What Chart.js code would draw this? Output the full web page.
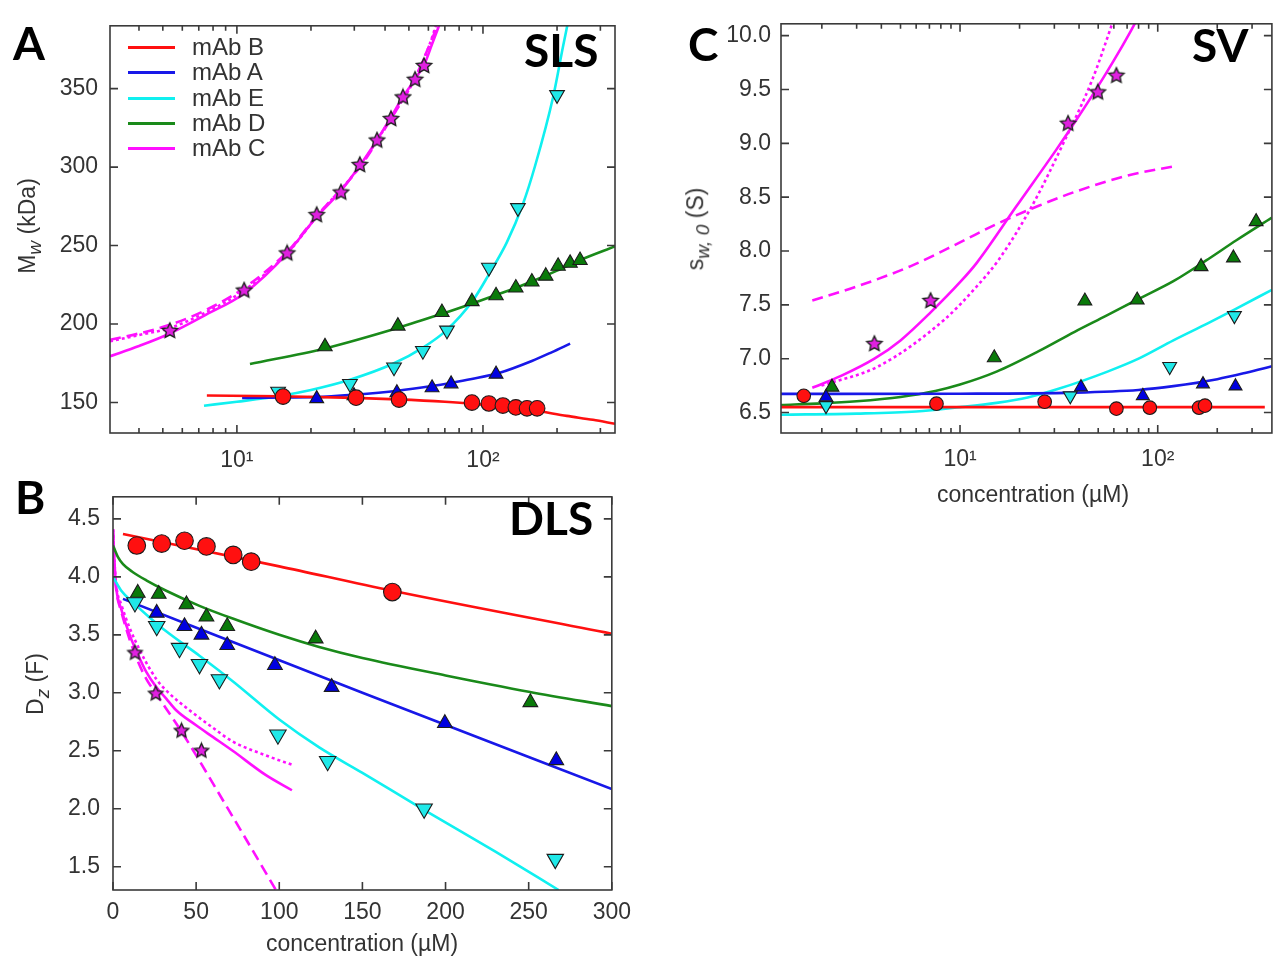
<!DOCTYPE html>
<html>
<head>
<meta charset="utf-8">
<script src="https://cdn.jsdelivr.net/npm/chart.js@4/dist/chart.umd.min.js"></script>
<style>
  body { margin: 0; background: #fff; }
  #page { position: relative; width: 1281px; height: 957px; overflow: hidden; background: #fff;
          font-family: "Liberation Sans", Arial, sans-serif; color: #333; }
  canvas { position: absolute; }
  .big { position: absolute; font-family: Lato, "Open Sans", sans-serif; font-weight: 700;
         font-size: 46px; line-height: 46px; color: #000; }
  .ytitle { position: absolute; font-size: 23px; white-space: nowrap; transform: translate(-50%, -50%) rotate(-90deg); }
  .xtitle { position: absolute; font-size: 23px; white-space: nowrap; transform: translate(-50%, -50%); }
  .legend { position: absolute; left: 128px; top: 34px; font-size: 24px; line-height: 25.3px; }
  .legend div { position: relative; height: 25.3px; width: 160px; }
  .legend span.l { position: absolute; left: 0; top: 12px; width: 47px; height: 3px; }
  .legend span.t { position: absolute; left: 64px; top: 0; white-space: nowrap; }
</style>
</head>
<body>
<div id="page">
  <canvas id="sls" width="640" height="470" style="left:0;top:0"></canvas>
  <canvas id="dls" width="640" height="487" style="left:0;top:470px"></canvas>
  <canvas id="sv" width="621" height="510" style="left:660px;top:0"></canvas>

  <div class="big" style="left:13px;top:20px">A</div>
  <div class="big" style="left:15px;top:474px">B</div>
  <div class="big" style="left:688px;top:21px">C</div>
  <div class="big" style="left:524px;top:27px">SLS</div>
  <div class="big" style="left:509px;top:495px">DLS</div>
  <div class="big" style="left:1192px;top:22px">SV</div>

  <div class="ytitle" style="left:30px;top:226px">M<sub><i>w</i></sub> (kDa)</div>
  <div class="ytitle" style="left:38px;top:684px">D<sub><i>z</i></sub> (F)</div>
  <div class="ytitle" style="left:698px;top:229px">s<sub><i>w, 0</i></sub> (S)</div>
  <div class="xtitle" style="left:362px;top:943px">concentration (µM)</div>
  <div class="xtitle" style="left:1033px;top:494px">concentration (µM)</div>

  <div class="legend" id="legend"></div>
</div>
<script>
// ---- panel A: SLS, concentration (µM) vs Mw (kDa) ----
const slsB = [[15.4,153.8],[30.5,153.1],[45.6,151.9],[90.2,150.0],[105.7,149.4],[120.5,148.1],[136,146.9],[151,146.3],[166,146.3]];
const slsBFit = [[7.55,154.5],[15,154],[30,153],[45,152],[70,150.5],[90,149.3],[120,147.3],[158,145.2],[219,141.5],[280,139],[344,136.5]];
const slsA = [[21.1,152.5],[29.9,154.4],[44.7,156.3],[62.1,159.4],[74.2,161.9],[113,168.1]];
const slsAFit = [[10.5,153],[21,153.5],[30,155],[45,157.5],[62,160.5],[74,162.5],[90,165],[117,169],[158,176.5],[190,182],[226,187.5]];
const slsE = [[14.7,157],[28.8,162],[43.5,172.5],[57,183],[71.4,196],[105.7,236],[138.7,274],[200,346]];
const slsEFit = [[7.35,148],[10,150.5],[14.7,154],[20,158],[28.8,164.5],[43.5,175],[57,185],[71,196],[91,215],[106,232],[125,252],[145,276],[163,301],[193,345],[211,376],[222,393]];
const slsD = [[22.8,185.6],[45.1,198.8],[68.1,207.5],[90.2,214.4],[113,218.1],[136,223.1],[158,226.9],[180,230.6],[202,236.9],[226,238.8],[248,240.6]];
const slsDFit = [[11.3,174.5],[22.8,184.5],[45,197.5],[68,206.5],[90,213],[113,218.5],[136,223],[160,227.5],[200,234],[250,241],[344,249.5]];
const slsC = [[5.34,195.6],[10.7,221.3],[16,245],[21.1,269.4],[26.5,283.8],[31.6,301.3],[37.1,316.9],[42.3,330.6],[47.3,344.4],[53,355.6],[57.6,364.4]];
const slsCFit = [[3.05,179.5],[4,186],[5.34,194],[7.5,206],[10.7,219.5],[16,245],[21,268],[26.5,285],[31.6,301],[37,317],[42,331],[47,344],[53,356],[58,366],[62,378],[67,392]];
const slsCDash = [[3.05,190],[4,194],[5.34,199.5],[7.5,209],[10.7,223],[16,246],[21,268.5],[31.6,300],[42,330],[53,357],[60,376],[66,392]];
const slsCDot = [[3.05,189],[4,193],[5.34,197.5],[7.5,207.5],[10.7,221.5],[16,245],[21,268],[31.6,300.5],[42,330.5],[53,356.5],[60,376],[65,392]];

// ---- panel B: DLS, concentration (µM) vs Dz (F) ----
const dlsB = [[14.3,4.27],[29.3,4.287],[43,4.311],[56.2,4.262],[72.3,4.189],[83.1,4.131],[168,3.869]];
const dlsBFit = [[6,4.37],[100,4.09],[168,3.88],[300,3.51]];
const dlsA = [[26.3,3.689],[43,3.574],[53.2,3.5],[68.7,3.41],[97.4,3.238],[131.5,3.049],[199.6,2.738],[266.6,2.418]];
const dlsAFit = [[6,3.81],[150,3.0],[300,2.17]];
const dlsE = [[13.2,3.779],[26.3,3.574],[40,3.385],[52,3.246],[64,3.115],[99.2,2.639],[129.1,2.41],[187.1,2.0],[266,1.566]];
const dlsEFit = [[0,4.0],[5,3.88],[12,3.78],[22,3.65],[32,3.53],[52,3.32],[72,3.1],[100,2.77],[124,2.53],[150,2.31],[186,2.0],[230,1.63],[268,1.3]];
const dlsD = [[14.9,3.861],[27.5,3.852],[44.2,3.762],[56.2,3.656],[68.7,3.574],[121.9,3.467],[251,2.918]];
const dlsDFit = [[0,4.27],[3,4.17],[6,4.11],[12,4.04],[20,3.97],[32,3.88],[52,3.75],[72,3.64],[100,3.5],[124,3.395],[150,3.3],[200,3.15],[250,3.01],[300,2.885]];
const dlsC = [[13.2,3.344],[25.7,2.992],[41.2,2.672],[53.2,2.5]];
const dlsCFit = [[0,4.41],[1,4.1],[2,3.9],[5,3.72],[10,3.5],[15,3.33],[20,3.18],[26,3.05],[32,2.95],[38,2.85],[50,2.72],[60,2.62],[72,2.5],[92,2.29],[107.6,2.16]];
const dlsCDot = [[0,4.41],[1,4.1],[2,3.92],[5,3.76],[10,3.56],[15,3.4],[20,3.26],[26,3.12],[32,3.02],[46,2.85],[60,2.7],[72,2.58],[92,2.46],[107.6,2.38]];
const dlsCDash = [[0,4.41],[1,4.05],[2,3.88],[5,3.7],[10,3.46],[15,3.27],[20,3.12],[26,2.99],[41,2.67],[70,1.98],[98,1.3]];

// ---- panel C: SV, concentration (µM) vs s_w,0 (S) ----
const svB = [[1.62,6.655],[7.6,6.582],[26.8,6.6],[61.8,6.536],[91.2,6.545],[161.8,6.545],[173.4,6.564]];
const svBFit = [[1.243,6.55],[348,6.55]];
const svA = [[2.1,6.645],[40.9,6.736],[84.1,6.655],[169.4,6.764],[247.4,6.745]];
const svAFit = [[1.243,6.673],[10,6.675],[38,6.685],[80,6.71],[120,6.745],[200,6.81],[280,6.87],[378,6.93]];
const svE = [[2.1,6.564],[36.1,6.655],[114.9,6.927],[244.3,7.4]];
const svEFit = [[1.243,6.48],[3,6.49],[6,6.51],[10,6.55],[15.3,6.59],[22,6.64],[31.5,6.72],[55.7,6.88],[80,7.0],[120,7.17],[180,7.33],[247,7.46],[378,7.64]];
const svD = [[2.25,6.736],[14.9,7.009],[42.8,7.536],[78.7,7.545],[165.6,7.855],[241.5,7.936],[314.5,8.273]];
const svDFit = [[1.243,6.57],[2,6.585],[3,6.605],[5,6.645],[7.5,6.7],[10,6.76],[15.3,6.88],[25,7.07],[38,7.25],[55,7.4],[79,7.55],[120,7.72],[175,7.91],[250,8.1],[378,8.31]];
const svC = [[3.69,7.136],[7.1,7.536],[35.2,9.182],[49.8,9.473],[61.8,9.627]];
const svCFit = [[1.79,6.73],[2.5,6.84],[3.69,7.0],[5,7.17],[7.1,7.43],[10,7.71],[12.15,7.89],[19.2,8.41],[30.4,8.93],[35.3,9.105],[48,9.48],[60,9.77],[73.4,10.05],[78,10.14]];
const svCDot = [[1.99,6.75],[3.87,6.93],[8.3,7.36],[12,7.66],[15.7,7.92],[23.3,8.43],[34.1,9.04],[46.4,9.58],[58.3,10.09],[61,10.2]];
const svCDash = [[1.79,7.54],[3,7.67],[5.64,7.86],[10,8.08],[15.3,8.25],[25,8.42],[38.2,8.55],[70,8.7],[124.5,8.79]];

// ticks
const mwTicks = [150, 200, 250, 300, 350];
const dzTicks = [1.5, 2.0, 2.5, 3.0, 3.5, 4.0, 4.5];
const swTicks = [6.5, 7.0, 7.5, 8.0, 8.5, 9.0, 9.5, 10.0];
const concTicks = [0, 50, 100, 150, 200, 250, 300];
const logMajor = [10, 100];
const logMinor = [2, 3, 4, 5, 6, 7, 8, 9, 20, 30, 40, 50, 60, 70, 80, 90, 200, 300];

const names = ['mAb B', 'mAb A', 'mAb E', 'mAb D', 'mAb C'];
const RED = '#ff1010', BLUE = '#1818e8', CYAN = '#10f0f0', GREEN = '#1a8a1a', MAG = '#ff10ff';
const colors = [RED, BLUE, CYAN, GREEN, MAG];

Chart.defaults.font.family = '"Liberation Sans", Arial, sans-serif';
Chart.defaults.font.size = 23;
Chart.defaults.color = '#333';

const pts = a => a.map(([x, y]) => ({ x, y }));

function starImage(r) {
  const c = document.createElement('canvas');
  const s = Math.ceil(2 * r + 4);
  c.width = c.height = s;
  const g = c.getContext('2d');
  g.beginPath();
  for (let i = 0; i < 10; i++) {
    const rr = i % 2 ? r * 0.48 : r;
    const ang = -Math.PI / 2 + i * Math.PI / 5;
    g.lineTo(s / 2 + rr * Math.cos(ang), s / 2 + rr * Math.sin(ang));
  }
  g.closePath();
  g.fillStyle = '#e020e0';
  g.fill();
  g.strokeStyle = '#222';
  g.lineWidth = 1.4;
  g.stroke();
  return c;
}

function marks(data, color, style, r, rot) {
  return {
    data: pts(data), showLine: false, pointStyle: style, pointRadius: r, pointHoverRadius: r,
    pointRotation: rot || 0, pointBackgroundColor: color, pointBorderColor: '#1c1c1c',
    pointBorderWidth: 1.1, order: 0
  };
}
function curve(data, color, dash) {
  return {
    data: pts(data), showLine: true, borderColor: color, borderWidth: 2.6, borderDash: dash || [],
    pointRadius: 0, pointHoverRadius: 0, cubicInterpolationMode: 'monotone', fill: false, order: 1
  };
}

// box round the plot area with inward ticks on all four sides
const frame = {
  id: 'frame',
  afterDatasetsDraw(chart, args, o) {
    const { ctx, chartArea: a } = chart;
    const sx = chart.scales.x, sy = chart.scales.y;
    ctx.save();
    ctx.strokeStyle = '#3a3a3a';
    ctx.lineWidth = 1.6;
    ctx.beginPath();
    const seg = (x1, y1, x2, y2) => { ctx.moveTo(x1, y1); ctx.lineTo(x2, y2); };
    const xt = (vals, len) => vals.forEach(v => {
      if (v < sx.min || v > sx.max) return;
      const p = sx.getPixelForValue(v);
      seg(p, a.bottom, p, a.bottom - len); seg(p, a.top, p, a.top + len);
    });
    const yt = (vals, len) => vals.forEach(v => {
      const p = sy.getPixelForValue(v);
      seg(a.left, p, a.left + len, p); seg(a.right, p, a.right - len, p);
    });
    xt(o.xMajor, 8); xt(o.xMinor || [], 5); yt(o.yMajor, 8);
    ctx.stroke();
    ctx.strokeRect(a.left, a.top, a.right - a.left, a.bottom - a.top);
    ctx.restore();
  }
};

function makeChart(id, datasets, cfg) {
  const fixTicks = vals => scale => { scale.ticks = vals.map(v => ({ value: v })); };
  return new Chart(document.getElementById(id), {
    type: 'scatter',
    data: { datasets },
    plugins: [frame],
    options: {
      responsive: false, animation: false, events: [],
      layout: { padding: cfg.pad },
      plugins: { legend: { display: false }, tooltip: { enabled: false },
                 frame: { xMajor: cfg.xMajor, xMinor: cfg.xMinor, yMajor: cfg.yTicks } },
      scales: {
        x: {
          type: cfg.xType, min: cfg.xMin, max: cfg.xMax,
          grid: { display: false, drawTicks: false }, border: { display: false },
          afterBuildTicks: fixTicks(cfg.xLabels),
          afterFit: s => { s.height = cfg.xH; },
          ticks: { padding: cfg.xPad, maxRotation: 0, autoSkip: false,
                   callback: cfg.xType === 'logarithmic' ? (v => v === 10 ? '10\u00b9' : '10\u00b2') : (v => String(v)) }
        },
        y: {
          type: 'linear', min: cfg.yMin, max: cfg.yMax,
          grid: { display: false, drawTicks: false }, border: { display: false },
          afterBuildTicks: fixTicks(cfg.yTicks),
          afterFit: s => { s.width = cfg.yW; },
          ticks: { padding: cfg.yPad, autoSkip: false, callback: cfg.yFmt }
        }
      }
    }
  });
}

const starA = starImage(8), starB = starImage(7.5), starC = starImage(8);

makeChart('sls', [
  marks(slsB, RED, 'circle', 7.8), marks(slsA, '#0000e0', 'triangle', 8), marks(slsE, '#20e8e8', 'triangle', 8.5, 180),
  marks(slsD, '#0a7a0a', 'triangle', 8.3), marks(slsC, MAG, starA, 8),
  curve(slsBFit, RED), curve(slsAFit, BLUE), curve(slsEFit, CYAN), curve(slsDFit, GREEN),
  curve(slsCFit, MAG), curve(slsCDash, MAG, [11, 6]), curve(slsCDot, MAG, [3, 3])
], { pad: { top: 18, right: 25, left: 0, bottom: 0 }, xType: 'logarithmic', xMin: 3.05, xMax: 344,
     xLabels: logMajor, xMajor: logMajor, xMinor: logMinor, xH: 37, xPad: 14,
     yMin: 130.6, yMax: 390, yTicks: mwTicks, yW: 110, yPad: 12, yFmt: v => String(v) });

makeChart('dls', [
  marks(dlsB, RED, 'circle', 8.8), marks(dlsA, '#0000e0', 'triangle', 8.5), marks(dlsE, '#20e8e8', 'triangle', 9.5, 180),
  marks(dlsD, '#0a7a0a', 'triangle', 8.5), marks(dlsC, MAG, starB, 7.5),
  curve(dlsBFit, RED), curve(dlsAFit, BLUE), curve(dlsEFit, CYAN), curve(dlsDFit, GREEN),
  curve(dlsCFit, MAG), curve(dlsCDash, MAG, [11, 6]), curve(dlsCDot, MAG, [3, 3])
], { pad: { top: 6, right: 25, left: 0, bottom: 0 }, xType: 'linear', xMin: 0, xMax: 300,
     xLabels: concTicks, xMajor: concTicks, xMinor: [], xH: 67, xPad: 9,
     yMin: 1.30, yMax: 4.69, yTicks: dzTicks, yW: 113, yPad: 13, yFmt: v => v.toFixed(1) });

makeChart('sv', [
  marks(svB, RED, 'circle', 6.8), marks(svA, '#0000e0', 'triangle', 7.5), marks(svE, '#20e8e8', 'triangle', 8, 180),
  marks(svD, '#0a7a0a', 'triangle', 8), marks(svC, MAG, starC, 8),
  curve(svBFit, RED), curve(svAFit, BLUE), curve(svEFit, CYAN), curve(svDFit, GREEN),
  curve(svCFit, MAG), curve(svCDash, MAG, [11, 6]), curve(svCDot, MAG, [3, 3])
], { pad: { top: 17, right: 1, left: 0, bottom: 0 }, xType: 'logarithmic', xMin: 1.243, xMax: 378,
     xLabels: logMajor, xMajor: logMajor, xMinor: logMinor, xH: 77, xPad: 13,
     yMin: 6.31, yMax: 10.11, yTicks: swTicks, yW: 121, yPad: 10, yFmt: v => v.toFixed(1) });

// legend of panel A
const leg = document.getElementById('legend');
names.forEach((n, i) => {
  const row = document.createElement('div');
  row.innerHTML = '<span class="l" style="background:' + colors[i] + '"></span><span class="t">' + n + '</span>';
  leg.appendChild(row);
});
</script>
</body>
</html>
